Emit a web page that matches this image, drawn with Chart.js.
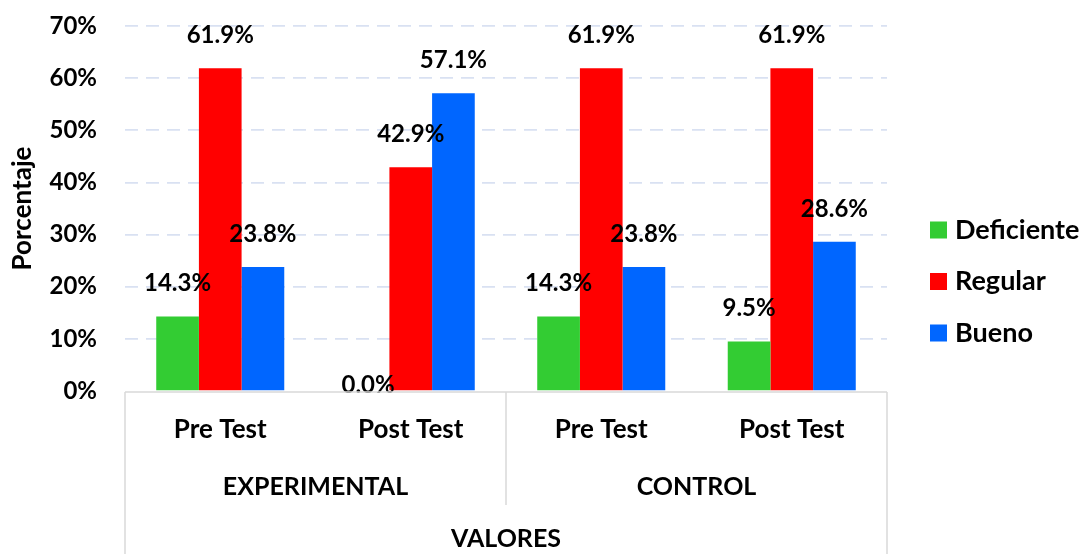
<!DOCTYPE html>
<html>
<head>
<meta charset="utf-8">
<script src="https://cdn.jsdelivr.net/npm/chart.js@4"></script>
<style>
  html, body { margin: 0; padding: 0; background: #fff; }
  #wrap { width: 1082px; height: 554px; }
</style>
</head>
<body>
<div id="wrap"><canvas id="grafico"></canvas></div>
<script>
// ==================== DATOS ====================
const categorias = ["Pre Test", "Post Test", "Pre Test", "Post Test"];
const grupos = ["EXPERIMENTAL", "CONTROL"];
const deficiente = [14.3, 0.0, 14.3, 9.5];
const regular = [61.9, 42.9, 61.9, 61.9];
const bueno = [23.8, 57.1, 23.8, 28.6];
const ticksY = [0, 10, 20, 30, 40, 50, 60, 70];

const fuente = "Lato, 'Open Sans', sans-serif";

// etiquetas de valor encima de cada barra
const etiquetasPlugin = {
  id: "etiquetas",
  afterDatasetsDraw(chart) {
    const ctx = chart.ctx;
    ctx.save();
    ctx.font = "bold 24px " + fuente;
    ctx.fillStyle = "#000";
    ctx.textAlign = "center";
    ctx.textBaseline = "middle";
    chart.data.datasets.forEach((ds, i) => {
      chart.getDatasetMeta(i).data.forEach((bar, j) => {
        const v = ds.data[j];
        const off = v === 0 ? 6 : 33;
        ctx.fillText(v.toFixed(1) + "%", bar.x, bar.y - off);
      });
    });
    ctx.restore();
  },
};

// eje x de dos niveles (lineas + grupos)
const ejeXPlugin = {
  id: "ejeX",
  afterDraw(chart) {
    const ctx = chart.ctx;
    const x = chart.scales.x;
    const top = chart.chartArea.bottom + 1;
    const h = chart.height;
    ctx.save();
    ctx.strokeStyle = "#d9d9d9";
    ctx.lineWidth = 1.5;
    ctx.beginPath();
    ctx.moveTo(x.left, top);
    ctx.lineTo(x.right, top);
    ctx.moveTo(x.left, top);
    ctx.lineTo(x.left, h);
    ctx.moveTo(x.right, top);
    ctx.lineTo(x.right, h);
    const mid = (x.getPixelForTick(1) + x.getPixelForTick(2)) / 2;
    ctx.moveTo(mid, top);
    ctx.lineTo(mid, 505);
    ctx.stroke();

    ctx.font = "bold 25px " + fuente;
    ctx.fillStyle = "#000";
    ctx.textAlign = "center";
    ctx.textBaseline = "middle";
    grupos.forEach((g, i) => {
      const cx = (x.getPixelForTick(i * 2) + x.getPixelForTick(i * 2 + 1)) / 2;
      ctx.fillText(g, cx, 487);
    });
    ctx.restore();
  },
};

// leyenda a la derecha
const leyendaPlugin = {
  id: "leyenda",
  afterDraw(chart) {
    const ctx = chart.ctx;
    ctx.save();
    ctx.font = "bold 27px " + fuente;
    ctx.textBaseline = "middle";
    ctx.textAlign = "left";
    chart.data.datasets.forEach((ds, i) => {
      const y = 230 + i * 51.5;
      ctx.fillStyle = ds.backgroundColor;
      ctx.fillRect(930, y - 8.5, 17, 17);
      ctx.fillStyle = "#000";
      ctx.fillText(ds.label, 955, y);
    });
    ctx.restore();
  },
};

const data = {
  labels: categorias,
  datasets: [
    { label: "Deficiente", backgroundColor: "rgb(51, 204, 51)", data: deficiente },
    { label: "Regular", backgroundColor: "rgb(255, 0, 0)", data: regular },
    { label: "Bueno", backgroundColor: "rgb(0, 102, 255)", data: bueno },
  ],
};

const config = {
  type: "bar",
  data: data,
  options: {
    responsive: true,
    maintainAspectRatio: false,
    animation: false,
    layout: { padding: { left: 5, top: 26, right: 195, bottom: 0 } },
    datasets: { bar: { barPercentage: 1, categoryPercentage: 0.672 } },
    plugins: { legend: { display: false }, tooltip: { enabled: false } },
    scales: {
      x: {
        afterFit: (s) => { s.height = 163; },
        grid: { display: false, drawTicks: false },
        border: { display: false },
        ticks: { color: "#000", font: { family: fuente, size: 26, weight: "bold" }, padding: 23, maxRotation: 0 },
        title: {
          display: true,
          text: "VALORES",
          color: "#000",
          font: { family: fuente, size: 25, weight: "bold" },
          padding: { top: 0, bottom: 0 },
        },
      },
      y: {
        min: 0,
        max: 70,
        afterFit: (s) => { s.width = 120; s.paddingTop = 0; s.paddingBottom = 0; },
        afterBuildTicks: (axis) => { axis.ticks = ticksY.map((v) => ({ value: v })); },
        grid: {
          color: (c) => (c.tick && c.tick.value === 0 ? "rgba(0,0,0,0)" : "#d9e1f2"),
          lineWidth: 1.7,
          drawTicks: false,
        },
        border: { display: false, dash: [13, 8] },
        ticks: {
          color: "#000",
          font: { family: fuente, size: 24, weight: "bold" },
          padding: 28,
          callback: (v) => v + "%",
        },
        title: {
          display: true,
          text: "Porcentaje",
          color: "#000",
          font: { family: fuente, size: 26, weight: "bold" },
          padding: { top: 2, bottom: 4 },
        },
      },
    },
  },
  plugins: [etiquetasPlugin, ejeXPlugin, leyendaPlugin],
};

const grafico = new Chart(document.getElementById("grafico"), config);
</script>
</body>
</html>
